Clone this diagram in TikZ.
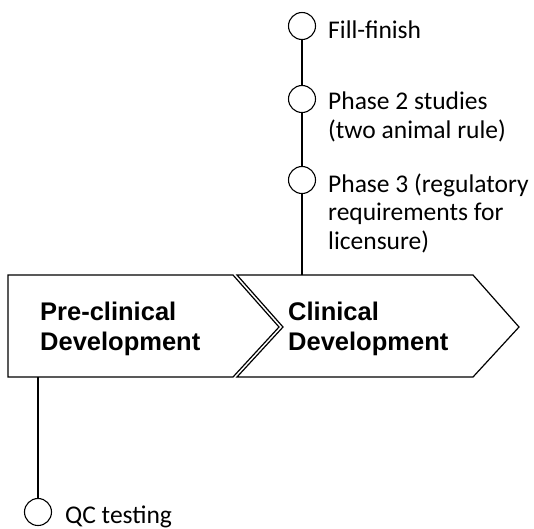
\documentclass[tikz,border=0pt]{standalone}
\usepackage{fontspec}
\setmainfont{Carlito}
\newfontfamily\stagefont{Liberation Sans}
\usetikzlibrary{positioning}

\tikzset{
  milestone/.style={draw, circle, minimum size=27pt, inner sep=0pt, line width=1.1pt},
  steptext/.style={anchor=base west, inner sep=0pt, align=left,
    font=\fontsize{25.5}{28.5}\selectfont},
  stagetext/.style={anchor=base west, inner sep=0pt, align=left,
    font=\stagefont\bfseries\fontsize{25.5}{30}\selectfont},
  stagebox/.style={draw, line width=1.2pt, line join=miter}
}

\begin{document}
\begin{tikzpicture}[x=1pt, y=-1pt]
      \useasboundingbox (0,0) rectangle (534,528);
      % the two stages
      \draw[stagebox] (8,275) -- (233,275) -- (279,327) -- (233,377) -- (8,377) -- cycle;
      \draw[stagebox] (237,275) -- (473,275) -- (519,327) -- (473,377) -- (237,377)
        -- (283,327) -- cycle;
      \node[stagetext] (pre) at (40,350) {Pre-clinical\\Development};
      \node[stagetext] (clin) at (288,350) {Clinical\\Development};
      \coordinate (top) at (302,275);
      \coordinate (bot) at (38,377);
      % milestones
      \draw
        (302,26) node[milestone] (ff){}
        (302,99) node[milestone] (p2){}
        (302,180) node[milestone] (p3){}
        (38,512) node[milestone] (qc){};
      \node[steptext] (ffl) at (328,38) {Fill-finish};
      \node[steptext] (p2l) at (328,138) {Phase 2 studies\\(two animal rule)};
      \node[steptext] (p3l) at (328,249) {Phase 3 (regulatory\\requirements for\\licensure)};
      \node[steptext] (qcl) at (65,523) {QC testing};
      \begin{scope}[-, line width=1.1pt]
        \draw (ff) to (p2);
        \draw (p2) to (p3);
        \draw (p3) to (top);
        \draw (bot) to (qc);
      \end{scope}
    \end{tikzpicture}
\end{document}
